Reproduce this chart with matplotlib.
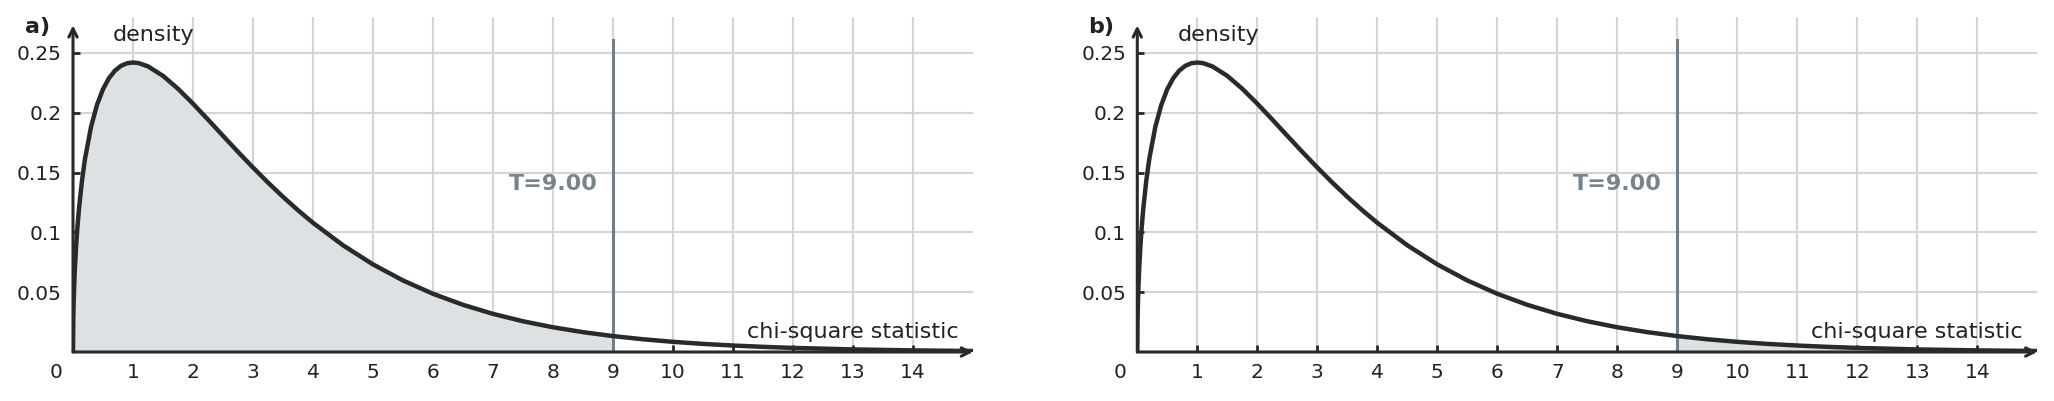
import matplotlib
matplotlib.use("Agg")
import matplotlib.pyplot as plt

# Density curve values (chi-square curve)
x_vals = [0, 0.005, 0.01, 0.02, 0.03, 0.05, 0.07, 0.1, 0.15, 0.2, 0.3, 0.4, 0.5, 0.6, 0.7,
          0.8, 0.9, 1.0, 1.1, 1.25, 1.5, 1.75, 2.0, 2.25, 2.5, 2.75, 3.0, 3.25, 3.5,
          3.75, 4.0, 4.5, 5.0, 5.5, 6.0, 6.5, 7.0, 7.5, 8.0, 8.5, 9.0, 9.5, 10.0,
          10.5, 11.0, 11.5, 12.0, 13.0, 14.0, 14.5, 15.0]
density = [0.0, 0.02814, 0.03970, 0.05586, 0.06807, 0.08700, 0.10192, 0.12000, 0.14335,
           0.16143, 0.18807, 0.20658, 0.21970, 0.22893, 0.23521, 0.23919, 0.24132,
           0.24197, 0.24140, 0.23874, 0.23080, 0.22001, 0.20755, 0.19427, 0.18072,
           0.16727, 0.15418, 0.14162, 0.12970, 0.11847, 0.10798, 0.08920, 0.07322,
           0.05981, 0.04865, 0.03944, 0.03187, 0.02569, 0.02067, 0.01659, 0.01330,
           0.01064, 0.00850, 0.00678, 0.00541, 0.00431, 0.00343, 0.00216, 0.00136,
           0.00108, 0.00085]
T_value = 9.0
x_ticks = list(range(1, 15))
y_ticks = [0.05, 0.1, 0.15, 0.2, 0.25]
y_tick_labels = ["0.05", "0.1", "0.15", "0.2", "0.25"]
panel_labels = ["a)", "b)"]

W, H = 2054, 401
fig = plt.figure(figsize=(W / 100, H / 100), dpi=100)

CURVE = "#2a2a2a"
FILL = "#dce1e3"
TLINE = "#717d87"
TTEXT = "#78838b"
GRID = "#d4d4d4"
TXT = "#222222"

lefts = [73 / W, 1137.3 / W]
for i, left in enumerate(lefts):
    ax = fig.add_axes([left, 49 / H, 900 / W, 335 / H])
    ax.set_xlim(0, 15)
    ax.set_ylim(0, 0.28)
    for s in ax.spines.values():
        s.set_visible(False)
    ax.set_xticks(x_ticks)
    ax.set_yticks(y_ticks)
    ax.set_yticklabels(y_tick_labels)
    ax.tick_params(direction="in", length=5, width=2, color=CURVE, labelsize=14.5,
                   labelcolor=TXT, pad=8)
    ax.grid(True, color=GRID, linewidth=1.5, zorder=0)
    ax.set_axisbelow(True)

    # shaded area
    if i == 0:
        xs = [x for x in x_vals if x <= T_value]
        ys = [d for x, d in zip(x_vals, density) if x <= T_value]
    else:
        xs = [x for x in x_vals if x >= T_value]
        ys = [d for x, d in zip(x_vals, density) if x >= T_value]
    ax.fill_between(xs, ys, 0, color=FILL, linewidth=0, zorder=1)

    ax.plot([T_value, T_value], [0, 0.261], color=TLINE, linewidth=2.2, zorder=2)
    ax.plot(x_vals, density, color=CURVE, linewidth=3.2, zorder=3,
            solid_capstyle="butt")

    # axis arrows
    ax.annotate("", xy=(15, 0), xytext=(0, 0),
                arrowprops=dict(arrowstyle="->,head_length=0.6,head_width=0.3",
                                color=CURVE, lw=2.2, shrinkA=0, shrinkB=0),
                annotation_clip=False, zorder=4)
    ax.annotate("", xy=(0, 0.273), xytext=(0, 0),
                arrowprops=dict(arrowstyle="->,head_length=0.6,head_width=0.3",
                                color=CURVE, lw=2.2, shrinkA=0, shrinkB=0),
                annotation_clip=False, zorder=4)

    ax.annotate("0", xy=(0, 0), xytext=(-17, -11), textcoords="offset pixels",
                ha="center", va="top", fontsize=14.5, color=TXT, annotation_clip=False)

    ax.text(0.67, 0.265, "density", ha="left", va="center", fontsize=16, color=TXT)
    ax.text(14.76, 0.008, "chi-square statistic", ha="right", va="bottom",
            fontsize=16, color=TXT)
    ax.text(8.0, 0.1405, "T=9.00", ha="center", va="center", fontsize=16,
            fontweight="bold", color=TTEXT)
    ax.text(-0.38, 0.272, panel_labels[i], ha="right", va="center", fontsize=16,
            fontweight="bold", color=TXT, clip_on=False)

fig.savefig("out.png", dpi=100)
